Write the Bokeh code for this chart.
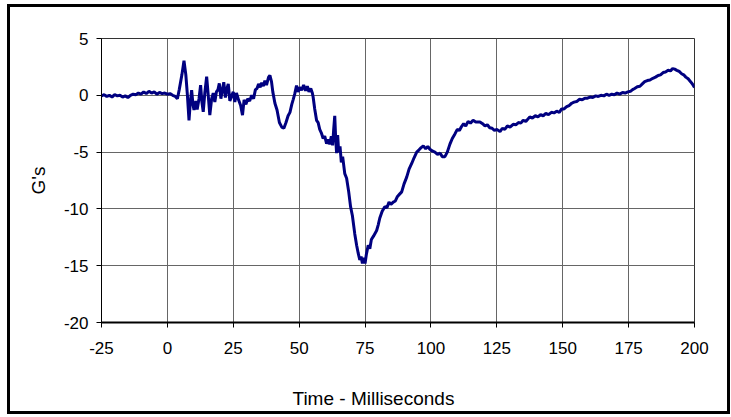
from bokeh.plotting import figure
from bokeh.models import Range1d, FixedTicker, Title
from bokeh.embed import file_html
from bokeh.resources import INLINE

time_ms = [-25, -24, -23, -22, -21, -20, -19, -18, -17, -16, -15, -14, -13, -12, -11, -10, -9, -8, -7, -6,
           -5, -4, -3, -2, -1, 0, 1, 2, 3, 3.8, 4.5, 5.5, 6.3, 7.0, 7.6, 8.2, 8.7, 9.2, 9.7, 10.1,
           10.8, 11.3, 12.0, 12.6, 13.1, 13.6, 14.2, 14.9, 15.5, 16.1, 16.8, 17.4, 18.0, 18.6, 19.2, 19.7, 20.3, 20.8, 21.4, 22.0,
           22.6, 23.1, 23.7, 24.3, 25, 25.6, 26.2, 27, 27.8, 28.5, 29.1, 29.8, 30.5, 31.2, 32, 32.7, 33.4, 34.0, 34.6, 35.2,
           35.8, 36.4, 37, 37.6, 38.4, 38.9, 39.5, 40.0, 40.8, 41.6, 42.5, 43.4, 44.2, 45.0, 45.8, 46.5, 47.2, 47.7, 48.3, 49,
           49.6, 50.2, 50.9, 51.7, 52.4, 53.1, 53.7, 54.4, 55.0, 55.3, 55.9, 56.6, 57.2, 57.8, 58.4, 59.1, 59.7, 60.4, 61.0, 61.6,
           62.2, 62.7, 63.1, 63.5, 63.8, 64.2, 64.6, 65.0, 65.5, 66.0, 66.5, 67.3, 68.0, 68.8, 69.5, 70.2, 71.1, 71.8, 72.4, 73.0,
           73.5, 74.0, 74.5, 75.0, 75.5, 76.2, 76.8, 77.4, 78.2, 79.4, 80.0, 80.6, 81.5, 82.5, 83.3, 84.1, 84.8, 85.7, 86.5, 87.3,
           88.1, 88.9, 89.8, 90.8, 91.7, 92.7, 93.6, 94.6, 95.5, 96.3, 97.1, 98, 98.8, 99.6, 100.5, 101.5, 102.5, 103.5, 104.3, 105.3,
           106.2, 107.2, 108.1, 109.1, 110.0, 110.8, 111.6, 112.4, 113.2, 114.1, 115.0, 116, 117, 118.6, 119.6, 120.5, 121.4, 122.3, 123.2, 124.1,
           125, 126.2, 127.1, 128, 129, 130, 131.2, 132.2, 133.2, 134.1, 135, 136, 137.5, 138.5, 139.6, 140.6, 141.6, 142.6, 143.6, 144.6,
           145.7, 146.7, 147.7, 148.7, 149.6, 150.5, 151.5, 152.4, 153.4, 154.3, 155.3, 156.3, 157.4, 158.4, 159.4, 160.4, 161.4, 162.5, 163.5, 164.5,
           165.6, 166.6, 167.6, 168.6, 169.6, 170.6, 171.6, 172.7, 173.7, 174.7, 175.7, 176.5, 177.3, 178.3, 179.3, 180.2, 181.1, 182.1, 183.1, 184.2,
           185.2, 186.2, 187.1, 188.1, 189, 190, 190.9, 191.7, 192.5, 193.3, 194.2, 195.1, 195.9, 196.7, 197.6, 198.5, 199.2, 200]

g_values = [-0.05, 0.05, -0.1, 0.0, -0.15, 0.05, -0.05, 0.0, -0.15, -0.05, -0.2, 0.0, 0.1, 0.05, 0.2, 0.1, 0.3, 0.15, 0.35, 0.2,
            0.3, 0.1, 0.25, 0.15, 0.2, 0.1, 0.15, 0.0, -0.1, -0.3, 0.5, 1.8, 3.05, 1.8, 0.0, -2.2, -0.6, 0.45, -0.8, -1.3,
            -0.5, -1.25, -0.3, 0.9, -0.6, -1.45, 0.2, 1.65, 0.0, -1.75, -0.3, 0.2, -0.6, 0.3, 0.5, 1.05, -0.3, 0.4, 1.15, -0.2,
            0.6, 1.0, -0.5, -0.1, 0.3, -0.6, 0.2, -0.4, -0.9, -1.75, -0.4, -0.8, -0.3, -0.5, 0.0, -0.3, 0.5, 0.6, 1.0, 0.7,
            1.1, 0.8, 1.3, 0.9, 1.6, 1.75, 1.2, 0.3, -0.7, -1.3, -2.4, -2.8, -2.9, -2.4, -1.8, -1.5, -0.8, -0.4, 0.1, 0.85,
            0.3, 0.7, 0.45, 0.9, 0.4, 0.8, 0.3, 0.6, 0.2, -0.15, -1.2, -2.2, -2.4, -3.0, -3.3, -3.8, -3.6, -4.25, -3.9, -4.3,
            -3.6, -4.4, -3.0, -1.8, -3.5, -5.1, -3.5, -5.0, -4.5, -5.9, -5.4, -6.9, -7.3, -8.5, -9.8, -10.6, -12.2, -13.2, -13.9, -14.5,
            -14.2, -14.8, -14.3, -14.8, -14.0, -13.2, -13.5, -12.7, -12.4, -11.9, -11.4, -10.8, -10.2, -9.8, -9.9, -9.4, -9.6, -9.4, -9.3, -8.9,
            -8.7, -8.5, -7.8, -7.2, -6.5, -6.0, -5.5, -5.0, -4.8, -4.6, -4.45, -4.7, -4.5, -4.75, -4.9, -5.0, -5.2, -5.1, -5.4, -5.4,
            -5.0, -4.3, -3.8, -3.4, -3.0, -3.1, -2.75, -2.5, -2.7, -2.3, -2.45, -2.2, -2.35, -2.35, -2.5, -2.7, -2.6, -2.85, -2.9, -3.1,
            -3.0, -3.2, -2.9, -3.0, -2.7, -2.8, -2.55, -2.6, -2.4, -2.45, -2.2, -2.3, -1.9, -2.0, -1.8, -1.9, -1.7, -1.8, -1.6, -1.7,
            -1.5, -1.55, -1.4, -1.5, -1.2, -1.2, -1.0, -0.9, -0.7, -0.6, -0.55, -0.35, -0.4, -0.25, -0.25, -0.15, -0.2, -0.05, -0.1, 0.0,
            -0.05, 0.1, 0.0, 0.1, 0.05, 0.2, 0.1, 0.25, 0.2, 0.3, 0.35, 0.5, 0.6, 0.75, 0.8, 1.0, 1.2, 1.3, 1.35, 1.5,
            1.6, 1.75, 1.8, 2.0, 2.05, 2.2, 2.15, 2.35, 2.3, 2.2, 2.1, 1.9, 1.8, 1.6, 1.45, 1.2, 1.0, 0.7]

x_ticks = [-25, 0, 25, 50, 75, 100, 125, 150, 175, 200]
y_ticks = [-20, -15, -10, -5, 0, 5]

FONT = "'Liberation Sans Narrow', 'Liberation Sans', Arial, sans-serif"

p = figure(width=717, height=404, output_backend="svg", toolbar_location=None,
           x_range=Range1d(-25, 200), y_range=Range1d(-20, 5),
           min_border_left=91, min_border_right=39, min_border_top=31, min_border_bottom=95,
           styles={"border": "3px solid black", "box-sizing": "content-box",
                   "margin-left": "7px", "margin-top": "4px"})
p.background_fill_color = "white"
p.border_fill_color = "white"
p.outline_line_color = "#333333"
p.outline_line_width = 1

p.line(time_ms, g_values, line_color="#000080", line_width=3)

p.xaxis.ticker = FixedTicker(ticks=x_ticks)
p.yaxis.ticker = FixedTicker(ticks=y_ticks)
p.xaxis.major_label_overrides = {t: str(t) for t in x_ticks}
p.yaxis.major_label_overrides = {t: str(t) for t in y_ticks}
for ax in (p.xaxis, p.yaxis):
    ax.major_label_text_font = FONT
    ax.major_label_text_font_size = "17px"
    ax.major_label_text_color = "black"
    ax.axis_line_color = "black"
    ax.major_tick_line_color = "black"
    ax.major_tick_in = 0
    ax.major_tick_out = 5
    ax.minor_tick_line_color = None
p.xaxis.axis_line_width = 2
p.yaxis.axis_line_width = 1
p.xaxis.major_label_standoff = 14
p.yaxis.major_label_standoff = 8

# blank spacer label below the x ticks, so the x title sits near the bottom edge
p.xaxis.axis_label = " "
p.xaxis.axis_label_text_font_size = "14px"
p.xaxis.axis_label_standoff = 8

p.yaxis.axis_label = "G's"
p.yaxis.axis_label_text_font = FONT
p.yaxis.axis_label_text_font_size = "19px"
p.yaxis.axis_label_text_font_style = "normal"
p.yaxis.axis_label_text_color = "black"
p.yaxis.axis_label_standoff = 12

p.xgrid.ticker = FixedTicker(ticks=x_ticks)
p.ygrid.ticker = FixedTicker(ticks=y_ticks)
p.grid.grid_line_color = "#666666"
p.grid.grid_line_width = 1

xtitle = Title(text="Time - Milliseconds", align="left", offset=191,
               text_font=FONT, text_font_size="19px", text_font_style="normal",
               text_color="black", standoff=4)
p.add_layout(xtitle, "below")

open("out.html", "w").write(file_html(p, INLINE))
